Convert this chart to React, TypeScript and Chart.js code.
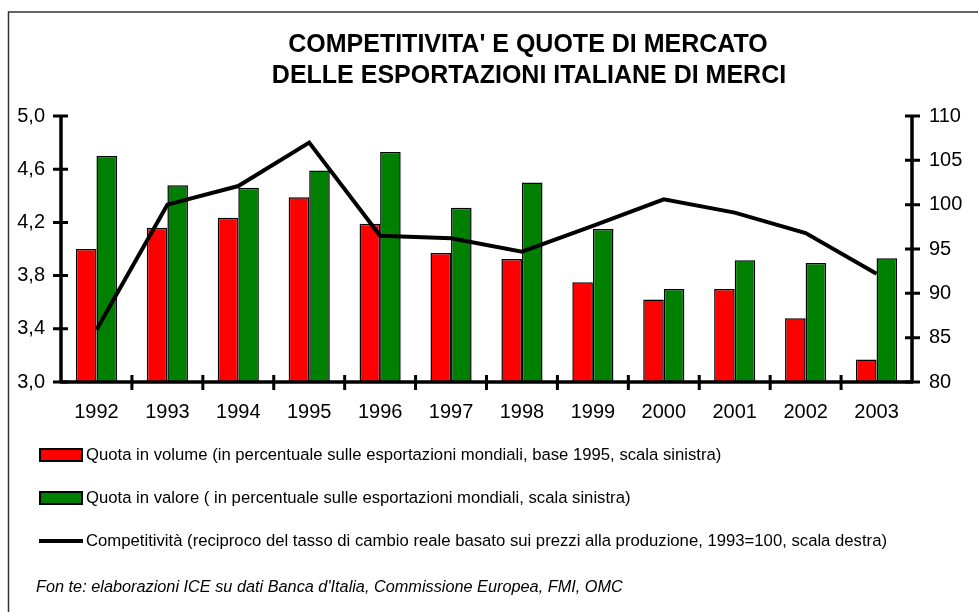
import React, { useEffect, useRef } from "react";
import { Chart, registerables } from "chart.js";

Chart.register(...registerables);

const years = ["1992", "1993", "1994", "1995", "1996", "1997", "1998", "1999", "2000", "2001", "2002", "2003"];
const quotaVolume = [4.0, 4.16, 4.235, 4.39, 4.19, 3.97, 3.925, 3.75, 3.62, 3.70, 3.48, 3.17];
const quotaValore = [4.70, 4.48, 4.46, 4.59, 4.73, 4.31, 4.50, 4.15, 3.70, 3.915, 3.895, 3.93];
const competitivita = [85.9, 100.0, 102.1, 107.0, 96.5, 96.2, 94.7, 97.6, 100.6, 99.1, 96.8, 92.2];

const titleLines = ["COMPETITIVITA' E QUOTE DI MERCATO", "DELLE ESPORTAZIONI ITALIANE DI MERCI"];
const legendLabels = [
  "Quota in volume (in percentuale sulle esportazioni mondiali, base 1995, scala sinistra)",
  "Quota in valore ( in percentuale sulle esportazioni mondiali, scala sinistra)",
  "Competitività (reciproco del tasso di cambio reale basato sui prezzi alla produzione, 1993=100, scala destra)",
];
const sourceNote = "Fon te: elaborazioni ICE su dati Banca d'Italia, Commissione Europea, FMI, OMC";

const FONT = "'Liberation Sans', Arial, Helvetica, sans-serif";

const decorPlugin = {
  id: "decor",
  afterDraw(chart: any) {
    const ctx = chart.ctx as CanvasRenderingContext2D;
    const area = chart.chartArea;
    const x = chart.scales.x;
    const y = chart.scales.y;
    const y1 = chart.scales.y1;
    ctx.save();
    ctx.strokeStyle = "#000";
    ctx.lineCap = "butt";
    // axes
    ctx.lineWidth = 3.5;
    ctx.beginPath();
    ctx.moveTo(area.left, area.top - 1);
    ctx.lineTo(area.left, area.bottom + 1);
    ctx.moveTo(area.right, area.top - 1);
    ctx.lineTo(area.right, area.bottom + 1);
    ctx.moveTo(area.left - 1, area.bottom);
    ctx.lineTo(area.right + 1, area.bottom);
    ctx.stroke();
    // tick marks
    ctx.lineWidth = 3;
    ctx.beginPath();
    y.ticks.forEach((t: any, i: number) => {
      const py = y.getPixelForTick(i);
      ctx.moveTo(area.left - 8, py);
      ctx.lineTo(area.left + 7, py);
    });
    y1.ticks.forEach((t: any, i: number) => {
      const py = y1.getPixelForTick(i);
      ctx.moveTo(area.right - 7, py);
      ctx.lineTo(area.right + 8, py);
    });
    for (let i = 1; i < years.length; i++) {
      const px = (x.getPixelForValue(i - 1) + x.getPixelForValue(i)) / 2;
      ctx.moveTo(px, area.bottom - 7);
      ctx.lineTo(px, area.bottom + 8);
    }
    ctx.stroke();

    // frame
    ctx.strokeStyle = "#333";
    ctx.lineWidth = 1.5;
    ctx.beginPath();
    ctx.moveTo(8.5, chart.height);
    ctx.lineTo(8.5, 12);
    ctx.lineTo(chart.width, 12);
    ctx.stroke();

    // title
    ctx.fillStyle = "#000";
    ctx.textAlign = "center";
    ctx.textBaseline = "middle";
    ctx.font = `bold 25px ${FONT}`;
    ctx.fillText(titleLines[0], 528, 45);
    ctx.fillText(titleLines[1], 529, 76);

    // legend
    const ds = chart.data.datasets;
    const rows = [455, 498, 541];
    ctx.textAlign = "left";
    ctx.font = `16.7px ${FONT}`;
    for (let i = 0; i < 3; i++) {
      const cy = rows[i];
      if (i < 2) {
        ctx.fillStyle = ds[i].backgroundColor;
        ctx.fillRect(40, cy - 6, 42, 12);
        ctx.strokeStyle = "#000";
        ctx.lineWidth = 2;
        ctx.strokeRect(40, cy - 6, 42, 12);
      } else {
        ctx.strokeStyle = ds[i].borderColor;
        ctx.lineWidth = 4;
        ctx.beginPath();
        ctx.moveTo(39, cy);
        ctx.lineTo(83, cy);
        ctx.stroke();
      }
      ctx.fillStyle = "#000";
      ctx.fillText(legendLabels[i], 86, cy);
    }
    // source
    ctx.font = `italic 16.3px ${FONT}`;
    ctx.fillText(sourceNote, 36, 587);
    ctx.restore();
  },
};

export default function App() {
  const ref = useRef<HTMLCanvasElement>(null);
  useEffect(() => {
    document.body.style.margin = "0";
    const canvas = ref.current!;
    const chart = new Chart(canvas, {
      type: "bar",
      data: {
        labels: years,
        datasets: [
          {
            type: "bar",
            label: legendLabels[0],
            data: quotaVolume,
            backgroundColor: "#FF0000",
            borderColor: "#000",
            borderWidth: 1.5,
            yAxisID: "y",
            order: 2,
            barPercentage: 1,
            categoryPercentage: 0.58,
          },
          {
            type: "bar",
            label: legendLabels[1],
            data: quotaValore,
            backgroundColor: "#008000",
            borderColor: "#000",
            borderWidth: 1.5,
            yAxisID: "y",
            order: 2,
            barPercentage: 1,
            categoryPercentage: 0.58,
          },
          {
            type: "line",
            label: legendLabels[2],
            data: competitivita,
            borderColor: "#000",
            backgroundColor: "#000",
            borderWidth: 4,
            pointRadius: 0,
            tension: 0,
            yAxisID: "y1",
            order: 0,
          } as any,
        ],
      },
      options: {
        responsive: false,
        animation: false,
        devicePixelRatio: 1,
        layout: { padding: { left: 11, right: 16, top: 116, bottom: 190 } },
        plugins: {
          legend: { display: false },
          title: { display: false },
          tooltip: { enabled: false },
        },
        scales: {
          x: {
            grid: { display: false, drawTicks: false },
            border: { display: false },
            ticks: { color: "#000", font: { family: FONT, size: 20 }, padding: 18, maxRotation: 0 },
            afterFit: (s: any) => { s.height = 40; },
          },
          y: {
            position: "left",
            min: 3,
            max: 5,
            grid: { display: false, drawTicks: false },
            border: { display: false },
            ticks: {
              stepSize: 0.4,
              color: "#000",
              font: { family: FONT, size: 20 },
              padding: 16,
              callback: (v: any) => Number(v).toFixed(1).replace(".", ","),
            },
            afterFit: (s: any) => { s.width = 50; },
          },
          y1: {
            position: "right",
            min: 80,
            max: 110,
            grid: { display: false, drawTicks: false },
            border: { display: false },
            ticks: { stepSize: 5, color: "#000", font: { family: FONT, size: 20 }, padding: 17 },
            afterFit: (s: any) => { s.width = 50; },
          },
        },
      },
      plugins: [decorPlugin],
    });
    return () => chart.destroy();
  }, []);
  return <canvas ref={ref} width={978} height={612} style={{ display: "block" }} />;
}
